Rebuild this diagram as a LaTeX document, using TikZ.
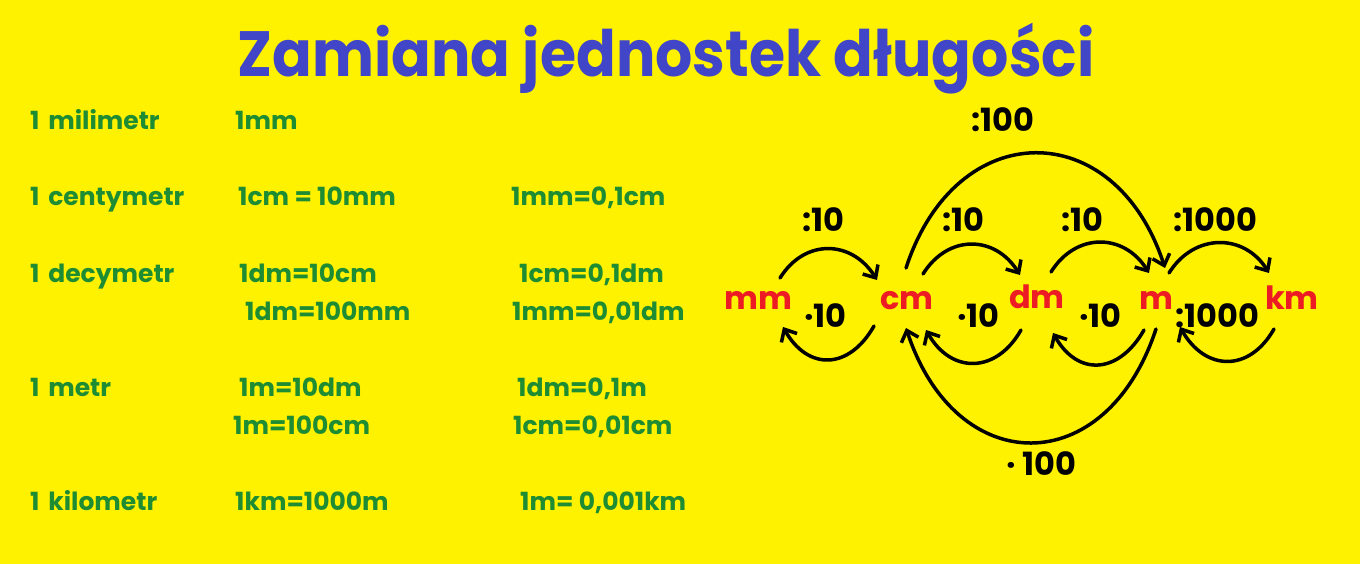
\documentclass[tikz,border=0pt]{standalone}
\usepackage{fontspec}
\setmainfont{Poppins}
\usetikzlibrary{arrows.meta}
\definecolor{bg}{RGB}{255,242,0}
\definecolor{ttl}{RGB}{65,70,200}
\definecolor{grn}{RGB}{30,140,50}
\definecolor{unitred}{RGB}{237,28,36}
\begin{document}
\begin{tikzpicture}[x=1pt,y=-1pt,
 row/.style={anchor=base west, text=grn, font=\bfseries\fontsize{25}{30}\selectfont, inner sep=0},
 unit/.style={anchor=base, text=unitred, font=\bfseries\fontsize{32}{40}\selectfont, inner sep=0},
 lbl/.style={anchor=base west, text=black, font=\bfseries\fontsize{32}{36}\selectfont, inner sep=0},
 arr/.style={line width=3.5pt, -{Straight Barb[length=10pt,width=18pt]}, line cap=round}]
\fill[bg] (0,0) rectangle (1360,564);
\useasboundingbox (0,0) rectangle (1360,564);
% title
\node[anchor=base, text=ttl, font=\bfseries\fontsize{64}{80}\selectfont, inner sep=0, xscale=0.915] (title) at (666,77) {Zamiana jednostek długości};
% left table
\node[row] (r1a) at (30,130) {1\hspace{0.35em}milimetr};
\node[row] (r1b) at (235,130) {1mm};
\node[row] (r2a) at (30,206) {1\hspace{0.35em}centymetr};
\node[row] (r2b) at (238,206) {1cm = 10mm};
\node[row] (r2c) at (511,206) {1mm=0,1cm};
\node[row] (r3a) at (30,282) {1\hspace{0.35em}decymetr};
\node[row] (r3b) at (239,282) {1dm=10cm};
\node[row] (r3c) at (519,282) {1cm=0,1dm};
\node[row] (r3d) at (245,320) {1dm=100mm};
\node[row] (r3e) at (512,320) {1mm=0,01dm};
\node[row] (r4a) at (30,396) {1\hspace{0.35em}metr};
\node[row] (r4b) at (239,396) {1m=10dm};
\node[row] (r4c) at (517,396) {1dm=0,1m};
\node[row] (r4d) at (233,434) {1m=100cm};
\node[row] (r4e) at (513,434) {1cm=0,01cm};
\node[row] (r5a) at (30,510) {1\hspace{0.35em}kilometr};
\node[row] (r5b) at (235,510) {1km=1000m};
\node[row] (r5c) at (520,510) {1m= 0,001km};
% units
\node[unit] (mm) at (758,309) {mm};
\node[unit] (cm) at (907,309) {cm};
\node[unit] (dm) at (1037,308) {dm};
\node[unit] (m) at (1156,309) {m};
\node[unit] (km) at (1292,309) {km};
% upper arcs
\draw[arr] ([shift={(22,-31)}]mm.base) .. controls +(25,-40) and +(-25,-40) .. ([shift={(-30,-29)}]cm.base);
\draw[arr] ([shift={(16,-35)}]cm.base) .. controls +(25,-40) and +(-25,-40) .. ([shift={(-17,-33)}]dm.base);
\draw[arr] ([shift={(14,-36)}]dm.base) .. controls +(25,-40) and +(-25,-40) .. ([shift={(-7,-36)}]m.base);
\draw[arr] ([shift={(13,-36)}]m.base) .. controls +(25,-40) and +(-25,-40) .. ([shift={(-23,-36)}]km.base);
% lower arcs
\draw[arr] ([shift={(-33,17)}]cm.base) .. controls +(-25,44) and +(25,44) .. ([shift={(25,18)}]mm.base);
\draw[arr] ([shift={(-16,22)}]dm.base) .. controls +(-25,44) and +(25,44) .. ([shift={(19,21)}]cm.base);
\draw[arr] ([shift={(-12,21)}]m.base) .. controls +(-25,44) and +(25,44) .. ([shift={(16,25)}]dm.base);
\draw[arr] ([shift={(-18,20)}]km.base) .. controls +(-25,44) and +(25,44) .. ([shift={(24,18)}]m.base);
% big arcs
\draw[arr] ([shift={(-1,-41)}]cm.base) .. controls +(50,-153) and +(-50,-153) .. ([shift={(9,-41)}]m.base);
\draw[arr] ([shift={(0,20)}]m.base) .. controls +(-50,152) and +(50,152) .. ([shift={(-1,19)}]cm.base);
% labels
\node[lbl] (l100a) at (971,132) {:100};
\node[lbl] (l10a) at (802,232) {:10};
\node[lbl] (l10b) at (942,232) {:10};
\node[lbl] (l10c) at (1061,232) {:10};
\node[lbl] (l1000a) at (1173,232) {:1000};
\node[lbl] (l10d) at (804,327) {·10};
\node[lbl] (l10e) at (957,327) {·10};
\node[lbl] (l10f) at (1079,327) {·10};
\node[lbl] (l1000b) at (1175,327) {:1000};
\node[lbl] (l100b) at (1006,475) {· 100};
\end{tikzpicture}
\end{document}
